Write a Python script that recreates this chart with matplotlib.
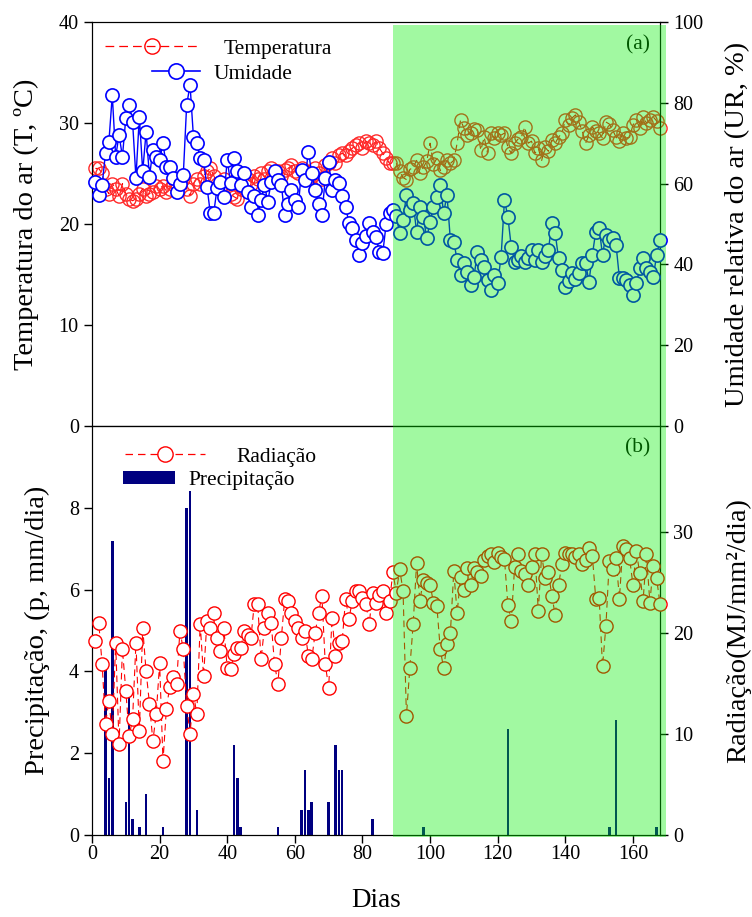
import matplotlib
matplotlib.use('Agg')
import matplotlib.pyplot as plt
import matplotlib.transforms as mtransforms
from matplotlib.patches import Rectangle, Patch
from matplotlib.lines import Line2D
import numpy as np

plt.rcParams['font.family'] = ['Liberation Serif', 'DejaVu Serif']

# ---------------- data ----------------
dias = list(range(1, 169))

temperatura = [
    25.5, 25.5, 25.0, 23.5, 23.0, 24.0, 23.5, 22.8, 24.0, 23.0,
    22.5, 22.3, 22.5, 23.0, 23.5, 22.8, 23.0, 23.2, 23.8, 23.5,
    23.8, 23.2, 23.5, 24.0, 24.0, 24.5, 24.5, 23.5, 22.8, 24.0,
    24.5, 24.0, 24.8, 25.2, 25.5, 24.8, 24.0, 23.5, 24.5, 24.0,
    23.0, 22.7, 22.5, 23.5, 24.2, 24.5, 24.0, 24.8, 24.5, 25.0,
    24.5, 25.2, 25.5, 25.0, 25.2, 24.8, 25.3, 25.5, 25.8, 25.2,
    25.0, 25.5, 25.2, 24.5, 24.8, 25.5, 25.0, 24.5, 25.8, 26.0,
    26.5, 26.0, 26.8, 27.0, 26.8, 27.2, 27.5, 27.8, 28.0, 27.5,
    28.2, 28.0, 27.8, 28.2, 27.5, 27.0, 26.5, 26.0,
    26.0, 26.0, 25.2, 24.6, 24.4, 25.4, 25.6, 26.3, 25.0, 25.6,
    26.2, 28.0, 25.9, 26.5, 25.3, 25.6, 26.3, 26.0, 26.3, 28.0,
    30.3, 29.5, 28.8, 29.0, 29.4, 29.3, 27.3, 28.6, 27.0, 29.0,
    28.5, 29.0, 28.8, 29.0, 27.6, 27.0, 28.0, 28.4, 28.6, 29.6,
    28.0, 28.2, 27.0, 27.5, 26.3, 27.6, 27.2, 28.3, 28.0, 28.6,
    29.0, 30.3, 29.8, 30.5, 30.8, 30.1, 29.2, 28.0, 28.8, 29.6,
    29.2, 29.0, 28.5, 30.1, 29.9, 29.3, 28.6, 28.2, 29.0, 28.5,
    28.6, 29.8, 30.3, 29.5, 30.6, 30.0, 30.3, 30.6, 30.2, 29.5,
]

umidade = [
    60.5, 57.2, 59.7, 67.6, 70.4, 81.9, 66.7, 72.0, 66.7, 76.2,
    79.5, 75.3, 61.4, 76.6, 63.0, 72.8, 61.7, 68.3, 66.5, 65.8,
    70.0, 64.2, 64.2, 61.4, 58.0, 60.0, 62.1, 79.5, 84.4, 71.6,
    70.0, 66.3, 65.8, 59.2, 52.7, 52.7, 58.9, 60.5, 56.8, 65.8,
    60.1, 66.3, 63.0, 59.7, 62.6, 58.0, 54.3, 57.0, 52.2, 56.0,
    59.7, 55.5, 60.5, 63.0, 61.0, 59.7, 52.2, 55.0, 58.4, 56.0,
    54.3, 63.4, 61.0, 67.9, 62.6, 58.4, 55.0, 52.2, 61.4, 65.4,
    58.4, 61.0, 60.1, 57.0, 54.3, 50.2, 49.0, 46.0, 42.3, 45.3,
    47.0, 50.2, 48.0, 46.9, 43.0, 42.8, 50.0, 52.7,
    53.5, 52.0, 47.7, 51.0, 57.2, 53.5, 55.2, 48.1, 54.3, 51.8,
    46.5, 50.6, 54.3, 56.8, 59.7, 52.7, 57.2, 46.0, 45.6, 41.1,
    37.4, 40.3, 38.0, 34.9, 37.0, 43.1, 41.0, 39.4, 36.1, 33.7,
    37.4, 35.5, 41.9, 55.9, 51.8, 44.4, 40.7, 41.0, 42.0, 40.7,
    41.5, 43.6, 41.0, 43.6, 40.7, 42.0, 43.6, 50.2, 47.7, 41.5,
    38.6, 34.5, 35.8, 37.9, 36.5, 37.9, 40.3, 40.3, 35.7, 42.4,
    48.1, 49.0, 42.3, 47.3, 46.0, 46.5, 44.8, 36.6, 36.6, 36.1,
    35.0, 32.4, 35.3, 39.1, 41.6, 39.1, 38.0, 36.8, 42.3, 46.0,
]

radiacao = [
    19.2, 21.0, 16.9, 11.0, 13.3, 10.0, 19.0, 9.0, 18.4, 14.3,
    9.8, 11.5, 19.0, 10.3, 20.5, 16.2, 13.0, 9.3, 12.0, 17.0,
    7.3, 12.5, 14.7, 15.6, 15.0, 20.2, 18.4, 12.8, 10.0, 14.0,
    12.0, 20.9, 15.7, 21.2, 20.5, 22.0, 19.5, 18.2, 20.5, 16.5,
    16.4, 17.9, 18.5, 18.5, 20.2, 19.8, 19.5, 22.9, 22.9, 17.4,
    20.5, 22.0, 21.0, 16.9, 15.0, 19.5, 23.4, 23.2, 22.0, 21.2,
    20.5, 19.5, 20.2, 17.7, 17.4, 20.0, 22.0, 23.7, 16.9, 14.6,
    21.5, 17.7, 19.0, 19.2, 23.4, 21.4, 23.2, 24.2, 24.2, 23.5,
    22.9, 20.9, 24.0, 23.0, 23.8, 24.2, 22.0, 23.2,
    26.0, 24.0, 26.3, 24.2, 11.8, 16.5, 20.9, 26.9, 23.2, 25.3,
    25.0, 24.8, 23.0, 22.7, 18.4, 16.5, 18.9, 20.0, 26.1, 22.0,
    25.5, 24.3, 26.4, 24.8, 26.4, 26.0, 25.6, 27.2, 27.6, 27.8,
    27.0, 27.9, 27.5, 27.3, 22.8, 21.2, 26.5, 27.8, 26.1, 25.8,
    24.8, 26.5, 27.8, 22.2, 27.8, 25.4, 26.0, 23.7, 21.8, 24.8,
    26.8, 27.9, 27.8, 27.8, 27.5, 27.8, 26.8, 27.2, 28.4, 27.6,
    23.4, 23.5, 16.7, 20.7, 27.1, 26.3, 27.4, 23.4, 28.6, 28.3,
    27.4, 24.8, 28.1, 25.9, 23.2, 27.8, 23.0, 26.6, 25.4, 22.9,
]

precip_dias = [4, 5, 6, 10, 11, 12, 14, 16, 21, 28, 29, 31, 42, 43, 44, 55,
               62, 63, 64, 65, 70, 72, 73, 74, 83, 98, 123, 153, 155, 167]
precipitacao = [4.1, 1.4, 7.2, 0.8, 3.5, 0.4, 0.2, 1.0, 0.2, 8.0, 8.4, 0.6,
                2.2, 1.4, 0.2, 0.2, 0.6, 1.6, 0.6, 0.8, 0.8, 2.2, 1.6, 1.6,
                0.4, 0.2, 2.6, 0.2, 2.8, 0.2]

periodo_inicio = 89

# ---------------- figure ----------------
W, H = 752, 917
fig = plt.figure(figsize=(W / 100, H / 100), dpi=100)

def px_axes(x0, y0, x1, y1):
    return [x0 / W, 1 - y1 / H, (x1 - x0) / W, (y1 - y0) / H]

ax1 = fig.add_axes(px_axes(92, 22, 660, 426))
ax2 = fig.add_axes(px_axes(92, 426, 660, 835))

XMAX = 168
TICK_FS = 14.5
LAB_FS = 20.5
LEG_FS = 15.5

# --- top panel ---
ax1.plot(dias, temperatura, color='red', ls=(0, (7, 4)), lw=0.8,
         marker='o', ms=9.5, mfc='none', mec='#ff2a2a', mew=1.0,
         clip_on=False, zorder=2)
ax1.set_xlim(0, XMAX)
ax1.set_ylim(0, 40)
ax1.set_yticks([0, 10, 20, 30, 40])
ax1.set_xticks([])
ax1.set_ylabel('Temperatura do ar (T, ºC)', fontsize=LAB_FS)
ax1.yaxis.set_label_coords(-0.093, 0.5)

ax1r = ax1.twinx()
ax1r.plot(dias, umidade, color='blue', ls='-', lw=1.0,
          marker='o', ms=9.5, mfc='white', mec='blue', mew=1.2,
          clip_on=False, zorder=3)
ax1r.set_ylim(0, 100)
ax1r.set_yticks([0, 20, 40, 60, 80, 100])
ax1r.set_ylabel('Umidade relativa do ar (UR, %)', fontsize=LAB_FS)
ax1r.yaxis.set_label_coords(1.114, 0.5)

for a in (ax1, ax1r):
    a.tick_params(direction='out', length=6, width=1, labelsize=TICK_FS)

ax1.text(0.961, 0.943, '(a)', transform=ax1.transAxes, fontsize=15.5,
         ha='center', va='center')

h_t = Line2D([], [], color='red', ls=(0, (7, 4)), lw=0.9, marker='o', ms=11,
             mfc='none', mec='red', mew=1.0)
h_u = Line2D([], [], color='blue', ls='-', lw=1.2, marker='o', ms=11,
             mfc='white', mec='blue', mew=1.2)
leg_kw = dict(loc='center left', frameon=False, fontsize=LEG_FS,
              borderpad=0, borderaxespad=0)
lg1 = ax1r.legend([h_t], ['Temperatura'], bbox_to_anchor=(0.023, 0.934),
                  handlelength=4.4, handletextpad=1.1, **leg_kw)
ax1r.add_artist(lg1)
lg2 = ax1r.legend([h_u], ['Umidade'], bbox_to_anchor=(0.1056, 0.872),
                  handlelength=2.25, handletextpad=0.6, **leg_kw)

# --- bottom panel ---
ax2.bar(precip_dias, precipitacao, width=0.75, color='#000080',
        edgecolor='none', zorder=2)
ax2.set_xlim(0, XMAX)
ax2.set_ylim(0, 10)
ax2.set_yticks([0, 2, 4, 6, 8])
ax2.set_xticks([0, 20, 40, 60, 80, 100, 120, 140, 160])
ax2.set_xlabel('Dias', fontsize=19.5, labelpad=17)
ax2.set_ylabel('Precipitação, (p, mm/dia)', fontsize=LAB_FS)
ax2.yaxis.set_label_coords(-0.074, 0.5)

ax2r = ax2.twinx()
ax2r.plot(dias, radiacao, color='red', ls=(0, (6, 4)), lw=0.8,
          marker='o', ms=9.5, mfc='white', mec='red', mew=1.0,
          clip_on=False, zorder=3)
ax2r.set_ylim(0, 40.5)
ax2r.set_yticks([0, 10, 20, 30])
ax2r.set_ylabel('Radiação(MJ/mm²/dia)', fontsize=LAB_FS)
ax2r.yaxis.set_label_coords(1.116, 0.5)

for a in (ax2, ax2r):
    a.tick_params(direction='out', length=6, width=1, labelsize=TICK_FS)
ax2.tick_params(axis='x', pad=1.5)

ax2.text(0.961, 0.946, '(b)', transform=ax2.transAxes, fontsize=15.5,
         ha='center', va='center')

h_r = Line2D([], [], color='red', ls=(0, (6, 4)), lw=0.9, marker='o', ms=11,
             mfc='white', mec='red', mew=1.0)
h_p = Patch(facecolor='#000080', edgecolor='none')
lg3 = ax2r.legend([h_r], ['Radiação'], bbox_to_anchor=(0.058, 0.925),
                  handlelength=3.7, handletextpad=1.49, **leg_kw)
ax2r.add_artist(lg3)
lg4 = ax2r.legend([h_p], ['Precipitação'], bbox_to_anchor=(0.0546, 0.866),
                  handlelength=2.42, handleheight=0.55, handletextpad=0.6,
                  **leg_kw)

# --- green overlay spanning both panels ---
blend = mtransforms.blended_transform_factory(ax1.transData, fig.transFigure)
x_end = (666 - 92) / (660 - 92) * XMAX
y_bot = 1 - 837 / H
y_top = 1 - 25 / H
rect = Rectangle((periodo_inicio, y_bot), x_end - periodo_inicio, y_top - y_bot,
                 transform=blend, facecolor='#00f000', alpha=0.37,
                 edgecolor='none', zorder=20)
fig.add_artist(rect)

fig.savefig('out.png', dpi=100)
